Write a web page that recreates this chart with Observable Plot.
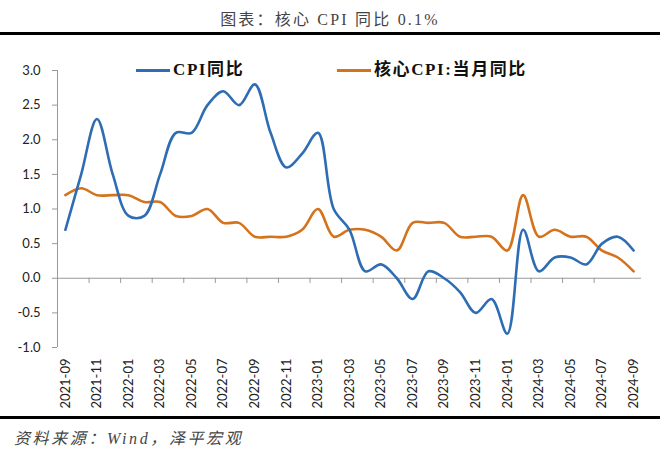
<!DOCTYPE html>
<html>
<head>
<meta charset="utf-8">
<script src="https://cdn.jsdelivr.net/npm/d3@7"></script>
<script src="https://cdn.jsdelivr.net/npm/@observablehq/plot@0.6"></script>
<style>
  body { margin: 0; background: #fff; }
  #wrap { position: relative; width: 660px; height: 449px; overflow: hidden; }
  .abs { position: absolute; }
  .rule { left: 0; width: 660px; height: 3px; background: #000; }
  .leg { font-family: "Liberation Serif", "Noto Sans CJK SC", serif; font-weight: bold; font-size: 17px; letter-spacing: 1.6px; color: #111; white-space: nowrap; }
  .sw { display: inline-block; width: 34px; height: 3px; vertical-align: middle; margin-right: 3px; position: relative; top: -1px; }
</style>
</head>
<body>
<div id="wrap">
  <div class="abs" id="title" style="top:6px;left:0;width:660px;text-align:center;font-family:'Liberation Serif','Noto Sans CJK SC',serif;font-size:16px;letter-spacing:2.2px;color:#444;">图表：核心 CPI 同比 0.1%</div>
  <div class="abs rule" style="top:32px;"></div>
  <div class="abs" id="chart" style="top:36px;left:0;"></div>
  <div class="abs leg" style="top:55px;left:136px;"><span class="sw" style="background:#2E6DB4"></span>CPI同比</div>
  <div class="abs leg" style="top:55px;left:337px;"><span class="sw" style="background:#D4731C"></span>核心CPI:当月同比</div>
  <div class="abs rule" style="top:416px;"></div>
  <div class="abs" id="foot" style="top:425px;left:14px;font-family:'Liberation Serif','Noto Sans CJK SC',serif;font-style:italic;font-size:16px;letter-spacing:2.6px;color:#444;">资料来源：Wind，泽平宏观</div>
</div>
<script>
const months = [
  "2021-09","2021-10","2021-11","2021-12",
  "2022-01","2022-02","2022-03","2022-04","2022-05","2022-06","2022-07","2022-08","2022-09","2022-10","2022-11","2022-12",
  "2023-01","2023-02","2023-03","2023-04","2023-05","2023-06","2023-07","2023-08","2023-09","2023-10","2023-11","2023-12",
  "2024-01","2024-02","2024-03","2024-04","2024-05","2024-06","2024-07","2024-08","2024-09"
];
const cpi = [
  0.7, 1.5, 2.3, 1.5,
  0.9, 0.9, 1.5, 2.1, 2.1, 2.5, 2.7, 2.5, 2.8, 2.1, 1.6, 1.8,
  2.1, 1.0, 0.7, 0.1, 0.2, 0.0, -0.3, 0.1, 0.0, -0.2, -0.5, -0.3,
  -0.8, 0.7, 0.1, 0.3, 0.3, 0.2, 0.5, 0.6, 0.4
];
const core = [
  1.2, 1.3, 1.2, 1.2,
  1.2, 1.1, 1.1, 0.9, 0.9, 1.0, 0.8, 0.8, 0.6, 0.6, 0.6, 0.7,
  1.0, 0.6, 0.7, 0.7, 0.6, 0.4, 0.8, 0.8, 0.8, 0.6, 0.6, 0.6,
  0.4, 1.2, 0.6, 0.7, 0.6, 0.6, 0.4, 0.3, 0.1
];
const yTicks = [-1.0, -0.5, 0.0, 0.5, 1.0, 1.5, 2.0, 2.5, 3.0];
const labelMonths = months.filter((m, i) => i % 2 === 0);

const data = months.map((m, i) => ({i, m, cpi: cpi[i], core: core[i]}));
const labelIdx = labelMonths.map(m => months.indexOf(m));
const tickIdx = labelIdx.filter(i => i < months.length - 1).map(i => i - 0.5);

const axisGray = "#999";
const font = "Lato, 'Open Sans', sans-serif";

const chart = Plot.plot({
  width: 660,
  height: 380,
  marginLeft: 57,
  marginRight: 19,
  marginTop: 34,
  marginBottom: 69,
  style: {fontFamily: font, fontSize: "13px", color: "#222", background: "transparent"},
  x: {domain: [-0.5, months.length - 0.5], axis: null},
  y: {domain: [yTicks[0], yTicks[yTicks.length - 1]], axis: null},
  marks: [
    Plot.ruleX([-0.5], {y1: yTicks[0], y2: yTicks[yTicks.length - 1], stroke: axisGray, strokeWidth: 1}),
    Plot.axisY({ticks: yTicks, tickFormat: d => d.toFixed(1), tickSize: 5, tickPadding: 12, stroke: axisGray, fill: "#222", fontSize: 13, label: null}),
    Plot.ruleY([0], {x1: -0.5, x2: months.length - 0.5, stroke: axisGray, strokeWidth: 1}),
    Plot.ruleX(tickIdx, {x: d => d, y1: 0, y2: -0.075, stroke: axisGray, strokeWidth: 1}),
    Plot.axisX({ticks: labelIdx, tickFormat: i => months[i], tickRotate: -90, tickSize: 0, tickPadding: 11, fill: "#222", fontSize: 13, anchor: "bottom", label: null}),
    Plot.line(data, {x: "i", y: "core", stroke: "#D4731C", strokeWidth: 2.6, curve: "catmull-rom"}),
    Plot.line(data, {x: "i", y: "cpi", stroke: "#2E6DB4", strokeWidth: 2.6, curve: "catmull-rom"})
  ]
});
document.getElementById("chart").appendChild(chart);
</script>
</body>
</html>
